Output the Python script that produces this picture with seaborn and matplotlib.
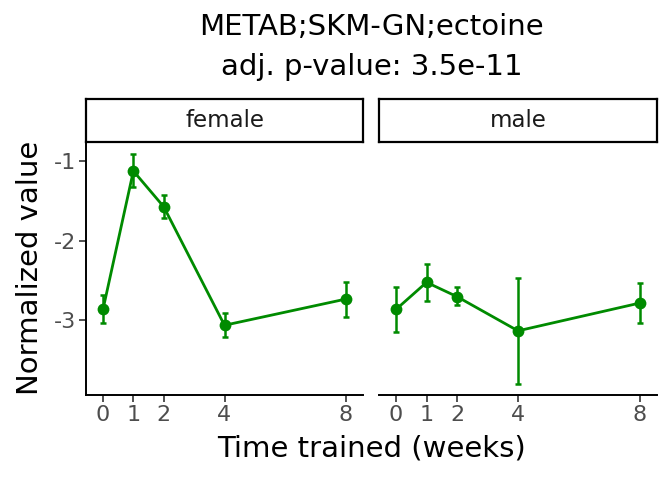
import numpy as np
import pandas as pd
import matplotlib
matplotlib.use("Agg")
import matplotlib.pyplot as plt
import seaborn as sns

weeks = [0, 1, 2, 4, 8]
sexes = ["female", "male"]
female_mean = [-2.86, -1.12, -1.57, -3.06, -2.73]
female_lo = [-3.035, -1.32, -1.71, -3.21, -2.95]
female_hi = [-2.68, -0.91, -1.42, -2.91, -2.52]
male_mean = [-2.86, -2.52, -2.70, -3.13, -2.78]
male_lo = [-3.15, -2.75, -2.81, -3.80, -3.03]
male_hi = [-2.575, -2.29, -2.58, -2.46, -2.525]
title_lines = ["METAB;SKM-GN;ectoine", "adj. p-value: 3.5e-11"]

df = pd.DataFrame({
    "week": weeks * 2,
    "sex": ["female"] * 5 + ["male"] * 5,
    "mean": female_mean + male_mean,
    "lo": female_lo + male_lo,
    "hi": female_hi + male_hi,
})

sns.set_theme(style="ticks")
plt.rcParams["font.family"] = ["DejaVu Sans"]

green = "#008B00"
W, H = 672, 480
fig = plt.figure(figsize=(6.72, 4.8), dpi=100)

def fx(px):
    return px / W

def fy(py):
    return 1 - py / H

panels = [(86, 363), (379, 657)]
top_px, bot_px = 142, 395
strip_top = 99

axes = []
for i, (sex, (l, r)) in enumerate(zip(sexes, panels)):
    ax = fig.add_axes([fx(l), fy(bot_px), fx(r - l), (bot_px - top_px) / H])
    sub = df[df["sex"] == sex]
    ax.errorbar(sub["week"], sub["mean"],
                yerr=[sub["mean"] - sub["lo"], sub["hi"] - sub["mean"]],
                fmt="none", ecolor=green, elinewidth=1.8, capsize=2.5,
                capthick=1.8, zorder=2)
    sns.lineplot(data=sub, x="week", y="mean", ax=ax, color=green,
                 linewidth=2.0, marker="o", markersize=8.5,
                 markeredgewidth=0, zorder=3)
    ax.set_xlim(-0.56, 8.56)
    ax.set_ylim(-3.937, -0.755)
    ax.set_xticks(weeks)
    ax.set_xticklabels([str(w) for w in weeks])
    ax.set_yticks([-3, -2, -1])
    ax.set_yticklabels(["-3", "-2", "-1"])
    ax.set_xlabel("")
    ax.set_ylabel("")
    for s in ["top", "right"]:
        ax.spines[s].set_visible(False)
    ax.spines["bottom"].set_linewidth(1.4)
    ax.spines["bottom"].set_color("black")
    ax.spines["left"].set_linewidth(1.4)
    ax.spines["left"].set_color("black")
    ax.tick_params(axis="both", length=5, width=1.2, color="#333333",
                   labelcolor="#4D4D4D", labelsize=16, pad=2)
    if i == 1:
        ax.spines["left"].set_visible(False)
        ax.tick_params(axis="y", left=False, labelleft=False)
    axes.append(ax)

    sax = fig.add_axes([fx(l), fy(top_px), fx(r - l), (top_px - strip_top) / H])
    sax.set_xticks([])
    sax.set_yticks([])
    sax.set_facecolor("white")
    for s in sax.spines.values():
        s.set_visible(True)
        s.set_color("black")
        s.set_linewidth(1.6)
    sax.text(0.5, 0.5, sex, ha="center", va="center", fontsize=16.5,
             color="#1A1A1A", transform=sax.transAxes)

fig.text(fx(371.5), fy(27), title_lines[0], ha="center", va="center",
         fontsize=21, color="black")
fig.text(fx(371.5), fy(67), title_lines[1], ha="center", va="center",
         fontsize=21, color="black")
fig.text(fx(371.5), fy(449), "Time trained (weeks)", ha="center",
         va="center", fontsize=21, color="black")
fig.text(fx(30), fy(268), "Normalized value", ha="center", va="center",
         rotation=90, fontsize=21, color="black")

fig.savefig("out.png", dpi=100, facecolor="white")
